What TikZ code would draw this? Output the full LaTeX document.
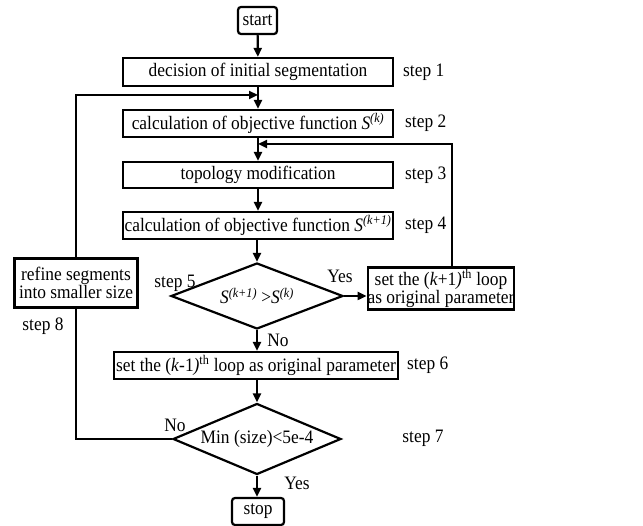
\documentclass[tikz,border=0pt]{standalone}
\usepackage{fontspec}
\setmainfont{Liberation Serif}[FakeStretch=0.915]
\usetikzlibrary{shapes.geometric,arrows.meta,positioning}
\begin{document}
\begin{tikzpicture}[x=1pt,y=-1pt,line width=2.2pt,
  font=\fontsize{19}{21}\selectfont,
  box/.style={draw,rectangle,inner sep=0pt,minimum width=270pt,minimum height=27pt},
  endbox/.style={draw,rectangle,rounded corners=3pt,inner sep=0pt,minimum height=27pt},
  test/.style={draw,diamond,inner sep=0pt,aspect=2.6,minimum width=172pt,minimum height=66pt},
  lbl/.style={inner sep=0pt},
  arr/.style={-{Triangle[length=9pt,width=8pt]}}]
\useasboundingbox (0,0) rectangle (643,526);
\node[endbox, minimum width=39pt] (start) at (257.5,20.5){start};
\node[box, minimum height=28pt] (s1) at (258,72){decision of initial segmentation};
\node[box] (s2) at (258,123.5){calculation of objective function \textit{S}\textsuperscript{\textit{(k)}}};
\node[box, minimum height=26pt] (s3) at (258,175){topology modification};
\node[box] (s4) at (258,225.5){calculation of objective function \textit{S}\textsuperscript{\textit{(k+1)}}};
\node[test] (d1) at (257,296){\textit{S}\textsuperscript{\textit{(k+1)}} >\textit{S}\textsuperscript{\textit{(k)}}};
\node[box, minimum width=146pt, minimum height=42pt, align=center] (set) at (441,288.5){set the (\textit{k}+1\textit{)}\textsuperscript{th} loop\\[-3pt]as original parameter};
\node[box, minimum width=123pt, minimum height=49pt, align=center] (refine) at (76,283){refine segments\\[-3pt]into smaller size};
\node[box, minimum width=284pt] (s6) at (256,365.5){set the (\textit{k}-1\textit{)}\textsuperscript{th} loop as original parameter};
\node[test, aspect=2.4, minimum width=168pt, minimum height=71pt] (d2) at (257,439){Min (size)<5e-4};
\node[endbox, minimum width=52pt] (stop) at (258,511.5){stop};
% step labels
\node[lbl, right=8pt of s1] (l1){step 1};
\node[lbl, right=10pt of s2] (l2){step 2};
\node[lbl, right=10pt of s3] (l3){step 3};
\node[lbl, right=10pt of s4] (l4){step 4};
\node[lbl] (l5) at (175,283){step 5};
\node[lbl, right=7pt of s6] (l6){step 6};
\node[lbl] (l7) at (423,438){step 7};
\node[lbl] (l8) at (43,326){step 8};
\node[lbl] (y1) at (340,276){Yes};
\node[lbl] (n1) at (278,340){No};
\node[lbl] (n2) at (175,425){No};
\node[lbl] (y2) at (297,483){Yes};
% joints of the loops
\coordinate (j1) at (258,95);
\coordinate (j2) at (258,144);
\coordinate (rl) at (452,144);
\draw[arr](start) -- (s1);
\draw[arr](s1) -- (s2);
\draw[arr](s2) -- (s3);
\draw[arr](s3) -- (s4);
\draw[arr](s4.south -| d1.north) -- (d1.north);
\draw[arr](d1.south) -- (d1.south |- s6.north);
\draw[arr](s6.south -| d2.north) -- (d2.north);
\draw[arr](d2.south) -- (d2.south |- stop.north);
\draw[arr](d1.east) -- (d1.east -| set.west);
\draw[arr](set.north -| rl) -- (rl) -- (j2);
\draw[](d2.west) -| (refine.south);
\draw[arr](refine.north) |- (j1);
\end{tikzpicture}
\end{document}
